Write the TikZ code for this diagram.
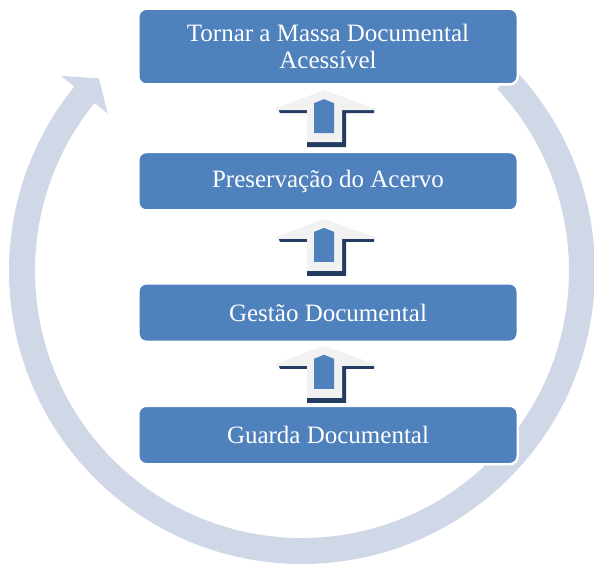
\documentclass[tikz,border=0pt]{standalone}
\usepackage{fontspec}
\setmainfont{Liberation Serif}
\usetikzlibrary{positioning,calc}
\definecolor{boxblue}{RGB}{79,129,189}
\definecolor{ringblue}{RGB}{208,216,232}
\definecolor{shadownavy}{RGB}{36,60,98}
\definecolor{arrowgray}{RGB}{242,242,242}

\begin{document}
\begin{tikzpicture}
[x=0.5pt,y=0.5pt,
 step box/.style={rounded corners=4pt, fill=boxblue, draw=white, line width=1.2pt, text=white, minimum width=189.7pt, minimum height=29.2pt, inner sep=0pt, align=center, font=\fontsize{12.5}{13.5}\selectfont},
 lift arrow/.pic={
   \fill[shadownavy] (-46,10) -- (50,10) -- (50,5) -- (22,5) -- (22,-29) -- (-17,-29) -- (-17,5) -- (-44,5) -- cycle;
   \fill[arrowgray] (0,28) -- (50,10) -- (50,8) -- (18,8) -- (18,-24) -- (-17,-24) -- (-17,8) -- (-48,8) -- (-48,10) -- cycle;
   \fill[boxblue] (-10,-15) -- (10,-15) -- (10,15) -- (0,19) -- (-10,15) -- cycle;
 }]

  \useasboundingbox (0,0) rectangle (594,563);

  \fill[ringblue, shift={(302,292)}] (43:293) arc[start angle=43, end angle=-219, radius=293]
    -- (141:310) -- (136.5:280) -- (141:250) -- (141:267)
    arc[start angle=-219, end angle=43, radius=267] -- cycle;

  \node (guarda) [step box] at (328,128) {Guarda Documental};
  \node (gestao) [step box, above=30.8pt of guarda] {Gestão Documental};
  \node (acervo) [step box, above=35.3pt of gestao] {Preservação do Acervo};
  \node (acesso) [step box, minimum height=37.8pt, above=32.6pt of acervo] {Tornar a Massa Documental\\Acessível};

  \pic at ($(guarda.north)!.5!(gestao.south)+(-4,0)$) {lift arrow};
  \pic at ($(gestao.north)!.5!(acervo.south)+(-4,0)$) {lift arrow};
  \pic at ($(acervo.north)!.5!(acesso.south)+(-4,0)$) {lift arrow};

\end{tikzpicture}
\end{document}
